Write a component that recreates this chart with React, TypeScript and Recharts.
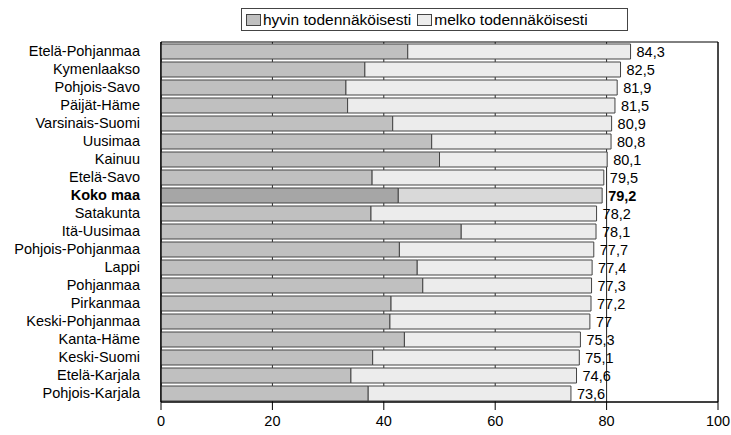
import React from "react";
import { BarChart, Bar, XAxis, YAxis, CartesianGrid, LabelList, Cell, ReferenceArea } from "recharts";

const regions = [
  "Etelä-Pohjanmaa", "Kymenlaakso", "Pohjois-Savo", "Päijät-Häme", "Varsinais-Suomi",
  "Uusimaa", "Kainuu", "Etelä-Savo", "Koko maa", "Satakunta", "Itä-Uusimaa",
  "Pohjois-Pohjanmaa", "Lappi", "Pohjanmaa", "Pirkanmaa", "Keski-Pohjanmaa",
  "Kanta-Häme", "Keski-Suomi", "Etelä-Karjala", "Pohjois-Karjala",
];
const totals = [84.3, 82.5, 81.9, 81.5, 80.9, 80.8, 80.1, 79.5, 79.2, 78.2, 78.1, 77.7, 77.4, 77.3, 77.2, 77, 75.3, 75.1, 74.6, 73.6];
const hyvin = [44.3, 36.6, 33.2, 33.5, 41.6, 48.6, 50.0, 37.9, 42.6, 37.7, 53.9, 42.8, 46.0, 47.0, 41.3, 41.1, 43.7, 38.0, 34.1, 37.2];
const xTicks = [0, 20, 40, 60, 80, 100];

const TOTAL_ROW = "Koko maa";
const FONT = "'Liberation Sans', Arial, sans-serif";
const FS = 14.5;

const data = regions.map((name, i) => ({
  name,
  hyvin: hyvin[i],
  melko: +(totals[i] - hyvin[i]).toFixed(1),
  total: totals[i],
}));

const fmt = (v: number) => String(v).replace(".", ",");

function YTick({ x, y, payload }: any) {
  const bold = payload.value === TOTAL_ROW;
  return (
    <text x={x - 13} y={y} dy={5} textAnchor="end" fontSize={FS} fontFamily={FONT} fontWeight={bold ? 700 : 400} fill="#000">
      {payload.value}
    </text>
  );
}

function XTick({ x, y, payload }: any) {
  return (
    <text x={x} y={y} dy={14} textAnchor="middle" fontSize={FS} fontFamily={FONT} fill="#000">
      {payload.value}
    </text>
  );
}

function TotalLabel({ x, y, width, height, index }: any) {
  const d = data[index];
  return (
    <text x={x + width + 6} y={y + height / 2} dy={5} fontSize={FS} fontFamily={FONT} fontWeight={d.name === TOTAL_ROW ? 700 : 400} fill="#000">
      {fmt(d.total)}
    </text>
  );
}

function LegendBox() {
  const sw = (c: string) => (
    <span style={{ display: "inline-block", width: 13, height: 10, background: c, border: "1px solid #444", marginRight: 2, verticalAlign: "-1px" }} />
  );
  return (
    <div style={{ position: "absolute", left: 241, top: 8, border: "1px solid #444", width: 387, height: 23, boxSizing: "border-box", fontFamily: FONT, fontSize: 15.5, lineHeight: "21px", paddingLeft: 4, whiteSpace: "nowrap", background: "#fff" }}>
      {sw("#c0c0c0")}hyvin todennäköisesti
      <span style={{ marginLeft: 6 }} />
      {sw("#ececec")}melko todennäköisesti
    </div>
  );
}

export default function App() {
  return (
    <div style={{ position: "absolute", left: 0, top: 0, width: 731, height: 435 }}>
      <BarChart width={731} height={435} data={data} layout="vertical" margin={{ top: 42, right: 13, bottom: 3, left: 0 }} barSize={15}>
        <CartesianGrid horizontal={false} stroke="#222" />
        <XAxis type="number" domain={[0, 100]} ticks={xTicks} stroke="#000" tickSize={8} height={30} tick={<XTick />} />
        <YAxis type="category" dataKey="name" width={161} stroke="#000" tickLine={false} tick={<YTick />} interval={0} />
        <ReferenceArea x1={0} x2={100} fill="none" stroke="#000" strokeWidth={1} />
        <Bar dataKey="hyvin" stackId="a" stroke="#444" strokeWidth={1} isAnimationActive={false}>
          {data.map((d) => <Cell key={d.name} fill={d.name === TOTAL_ROW ? "#a6a6a6" : "#c0c0c0"} />)}
        </Bar>
        <Bar dataKey="melko" stackId="a" stroke="#444" strokeWidth={1} isAnimationActive={false}>
          {data.map((d) => <Cell key={d.name} fill={d.name === TOTAL_ROW ? "#d9d9d9" : "#ececec"} />)}
          <LabelList dataKey="total" content={<TotalLabel />} />
        </Bar>
      </BarChart>
      <LegendBox />
    </div>
  );
}
